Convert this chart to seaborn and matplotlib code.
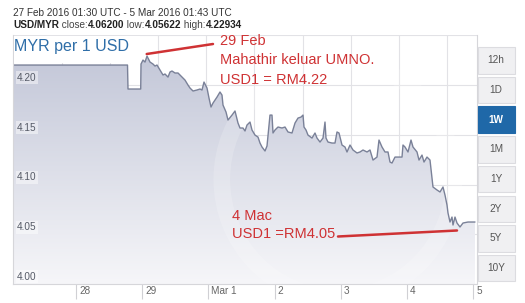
import numpy as np
import pandas as pd
import matplotlib
matplotlib.use("Agg")
import matplotlib.pyplot as plt
import matplotlib.dates as mdates
import matplotlib.transforms as mtransforms
from matplotlib.patches import Rectangle
import seaborn as sns

# ---------------- data (days since 27 Feb 2016 00:00, USD/MYR) ----------------
day_offset = [
    0.0483, 1.7780, 1.7855, 1.9774, 1.9819, 2.0121, 2.0423, 2.0725, 2.1178, 2.1631,
    2.1934, 2.2236, 2.2689, 2.3142, 2.3444, 2.3897, 2.4199, 2.4502, 2.4955, 2.5408,
    2.6012, 2.6465, 2.6918, 2.7221, 2.7674, 2.8278, 2.8731, 2.9033, 2.9335, 2.9789,
    3.0091, 3.0393, 3.0695, 3.1299, 3.1752, 3.2054, 3.2205, 3.2659, 3.2961, 3.3565,
    3.4018, 3.4471, 3.4773, 3.5227, 3.5529, 3.5831, 3.6284, 3.6586, 3.7039, 3.7492,
    3.7795, 3.8097, 3.8550, 3.8852, 3.9154, 3.9305, 3.9607, 3.9758, 4.0060, 4.0514,
    4.1118, 4.1571, 4.2024, 4.2628, 4.3082, 4.3535, 4.3988, 4.4290, 4.4441, 4.4743,
    4.5045, 4.5650, 4.6103, 4.6405, 4.6858, 4.7311, 4.7613, 4.7764, 4.8066, 4.8671,
    4.9124, 4.9426, 4.9728, 5.0181, 5.0634, 5.0937, 5.1390, 5.1843, 5.2447, 5.2900,
    5.3353, 5.3958, 5.4411, 5.4864, 5.5468, 5.5770, 5.6224, 5.6677, 5.7130, 5.7432,
    5.7734, 5.8187, 5.8640, 5.9245, 5.9396, 5.9698, 6.0151, 6.0604, 6.0906, 6.1511,
    6.1813, 6.2266, 6.2568, 6.3021, 6.3474, 6.3776, 6.3927, 6.4532, 6.4985, 6.5438,
    6.5740, 6.6042, 6.6193, 6.6495, 6.6798, 6.6949, 6.7251, 6.7553, 6.8006, 6.8459,
    6.9215, 7.0272,
]
rate = [
    4.2201, 4.2201, 4.1960, 4.1960, 4.2211, 4.2251, 4.2231, 4.2291, 4.2231, 4.2211,
    4.2191, 4.2201, 4.2151, 4.2101, 4.2111, 4.2080, 4.2131, 4.2141, 4.2121, 4.2121,
    4.2080, 4.2050, 4.2000, 4.1970, 4.1940, 4.1950, 4.1960, 4.1950, 4.2030, 4.1970,
    4.1869, 4.1779, 4.1819, 4.1879, 4.1930, 4.1899, 4.1799, 4.1729, 4.1648, 4.1698,
    4.1739, 4.1618, 4.1568, 4.1568, 4.1538, 4.1598, 4.1628, 4.1548, 4.1497, 4.1477,
    4.1417, 4.1377, 4.1337, 4.1387, 4.1598, 4.1698, 4.1698, 4.1518, 4.1548, 4.1578,
    4.1568, 4.1578, 4.1528, 4.1518, 4.1618, 4.1668, 4.1678, 4.1698, 4.1578, 4.1548,
    4.1497, 4.1467, 4.1518, 4.1467, 4.1427, 4.1467, 4.1628, 4.1467, 4.1427, 4.1417,
    4.1417, 4.1528, 4.1518, 4.1397, 4.1377, 4.1327, 4.1397, 4.1347, 4.1317, 4.1327,
    4.1347, 4.1327, 4.1347, 4.1246, 4.1276, 4.1447, 4.1377, 4.1327, 4.1327, 4.1226,
    4.1216, 4.1276, 4.1276, 4.1276, 4.1397, 4.1377, 4.1327, 4.1447, 4.1377, 4.1327,
    4.1246, 4.1296, 4.1226, 4.1276, 4.1246, 4.1065, 4.0975, 4.0945, 4.0925, 4.0975,
    4.0894, 4.0794, 4.0714, 4.0623, 4.0673, 4.0593, 4.0673, 4.0613, 4.0573, 4.0613,
    4.0623, 4.0623,
]
tick_days = [1, 2, 3, 4, 5, 6, 7]
tick_labels = ["28", "29", "Mar 1", "2", "3", "4", "5"]
y_ticks = [4.00, 4.05, 4.10, 4.15, 4.20]
y_tick_labels = ["4.00", "4.05", "4.10", "4.15", "4.20"]
buttons = ["12h", "1D", "1W", "1M", "1Y", "2Y", "5Y", "10Y"]
active_button = "1W"
header_line1 = "27 Feb 2016 01:30 UTC - 5 Mar 2016 01:43 UTC"
header_line2 = [("USD/MYR", True), (" close:", False), ("4.06200", True),
                (" low:", False), ("4.05622", True), (" high:", False), ("4.22934", True)]
chart_title = "MYR per 1 USD"
note1 = ["29 Feb", "Mahathir keluar UMNO.", "USD1 = RM4.22"]
note2 = ["4 Mac", "USD1 =RM4.05"]

# ---------------- figure ----------------
sns.set_theme(style="white")
plt.rcParams["font.family"] = ["Liberation Sans", "DejaVu Sans"]

W, H = 525, 303
fig = plt.figure(figsize=(W / 100, H / 100), dpi=100)
fig.patch.set_facecolor("white")


def fx(px):
    return px / W


def fy(py):
    return 1 - py / H


ax_left, ax_right, ax_top, ax_bot = 13, 477, 35, 284
ax = fig.add_axes([fx(ax_left), fy(ax_bot), (ax_right - ax_left) / W, (ax_bot - ax_top) / H])
ax.set_facecolor("white")

t0 = pd.Timestamp("2016-02-27")
df = pd.DataFrame({"time": t0 + pd.to_timedelta(day_offset, unit="D"), "rate": rate})

x_min = t0 + pd.Timedelta(days=0.0483)
x_max = t0 + pd.Timedelta(days=(ax_right - 9.8) / 66.2)
y_min, y_max = 4.0, 4.2503

# gridlines
for yv in y_ticks + [4.25]:
    ax.axhline(yv, color="#e2e2e6", lw=0.8, zorder=0.5)
for k in range(9):
    ax.axvline(t0 + pd.Timedelta(days=0.7885 + 0.7266 * k), color="#e2e2e6", lw=0.8, zorder=0.5)

# gradient area under curve
poly = ax.fill_between(df["time"], df["rate"], y_min, facecolor="none", edgecolor="none", zorder=1)
grad = np.linspace(0, 1, 256).reshape(-1, 1)
cmap = matplotlib.colors.LinearSegmentedColormap.from_list("g", ["#f6f6f9", "#c3c7d8"])
x0n, x1n = mdates.date2num(x_min), mdates.date2num(x_max)
im = ax.imshow(grad, extent=[x0n, x1n, y_min, 4.232], origin="lower", aspect="auto",
               cmap=cmap, zorder=1, interpolation="bilinear")
im.set_clip_path(poly.get_paths()[0], transform=ax.transData)

# faint watermark ring
ring = matplotlib.patches.Ellipse((0.70, 0.42), 0.50, 0.95, transform=ax.transAxes,
                                  facecolor="none", edgecolor="white", lw=12, alpha=0.18, zorder=1.5)
ax.add_patch(ring)

sns.lineplot(data=df, x="time", y="rate", ax=ax, color="#7a8198", lw=1.0, zorder=2)

ax.set_xlim(x_min, x_max)
ax.set_ylim(y_min, y_max)
ax.set_xlabel("")
ax.set_ylabel("")

# x ticks
ax.set_xticks([t0 + pd.Timedelta(days=d) for d in tick_days])
ax.set_xticklabels(tick_labels)
ax.tick_params(axis="x", direction="out", length=11, width=0.8, color="#d0d0d4",
               labelsize=7.2, labelcolor="#666666", pad=-9.5, bottom=True)
off = mtransforms.ScaledTranslation(3 / 100, 0, fig.dpi_scale_trans)
for lbl in ax.get_xticklabels():
    lbl.set_horizontalalignment("left")
    lbl.set_transform(lbl.get_transform() + off)
ax.set_yticks([])

for side in ["left", "right", "top", "bottom"]:
    ax.spines[side].set_color("#d6d6da")
    ax.spines[side].set_linewidth(0.8)
ax.spines["top"].set_visible(False)

# y labels inside the plot
for yv, lab in zip(y_ticks, y_tick_labels):
    ax.annotate(lab, xy=(0, yv), xycoords=("axes fraction", "data"),
                xytext=(3, 1.5), textcoords="offset points", ha="left", va="bottom",
                fontsize=7.2, color="#555a66", zorder=5,
                bbox=dict(boxstyle="square,pad=0.15", fc="white", ec="none", alpha=0.45))

# title box
fig.patches.append(Rectangle((fx(14), fy(63)), (140 - 14) / W, (63 - 36) / H,
                             transform=fig.transFigure, fc="white", ec="none", zorder=3))
fig.text(fx(14), fy(46), chart_title, fontsize=11.5, color="#2f6ea8", va="center", ha="left", zorder=4)

# header
fig.text(fx(13), fy(12.5), header_line1, fontsize=7.2, color="#333333", va="center", ha="left")
fig.canvas.draw()
renderer = fig.canvas.get_renderer()
xpos = fx(13)
for txt, bold in header_line2:
    t = fig.text(xpos, fy(25), txt, fontsize=7.2, color="#222222" if bold else "#444444",
                 fontweight="bold" if bold else "normal", va="center", ha="left")
    bb = t.get_window_extent(renderer=renderer)
    xpos += bb.width / W

# buttons
bx0, bw, bh, pitch, by0 = 477.5, 37, 26.5, 29.7, 47
for i, b in enumerate(buttons):
    top = by0 + i * pitch
    act = b == active_button
    fig.patches.append(Rectangle((fx(bx0), fy(top + bh)), bw / W, bh / H,
                                 transform=fig.transFigure,
                                 fc="#1f68a8" if act else "#f0f0f2",
                                 ec="#1f68a8" if act else "#dcdce0", lw=0.8))
    fig.text(fx(bx0 + bw / 2), fy(top + bh / 2), b, fontsize=7.2, ha="center", va="center",
             color="white" if act else "#555555", fontweight="bold" if act else "normal")

# red annotations
red = "#cf3234"
fig.add_artist(matplotlib.lines.Line2D([fx(146.7), fx(213)], [fy(54), fy(44)], color=red, lw=1.8))
fig.add_artist(matplotlib.lines.Line2D([fx(338), fx(457)], [fy(236.5), fy(230.5)], color=red, lw=1.8))
for i, s in enumerate(note1):
    fig.text(fx(220), fy(41 + i * 19.5), s, fontsize=10.5, color=red, va="center", ha="left")
for i, s in enumerate(note2):
    fig.text(fx(232), fy(216 + i * 18.5), s, fontsize=10.5, color=red, va="center", ha="left")

fig.savefig("out.png", dpi=100, facecolor="white")
